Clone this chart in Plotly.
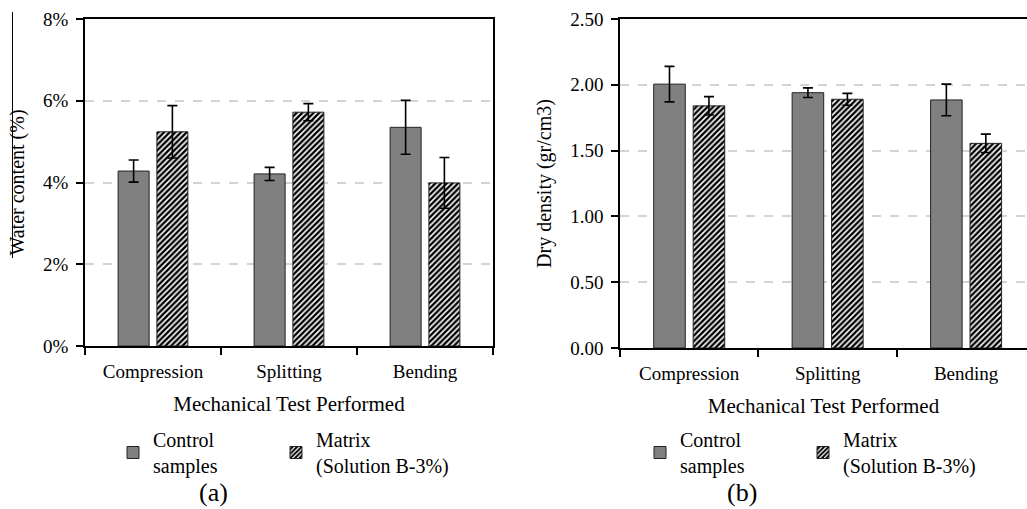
import plotly.graph_objects as go

categories = ["Compression", "Splitting", "Bending"]
series_names = ["Control<br>samples", "Matrix<br>(Solution B-3%)"]

# (a) water content, %
water_control = [4.28, 4.21, 5.35]
water_control_err = [0.27, 0.16, 0.66]
water_matrix = [5.24, 5.72, 3.99]
water_matrix_err = [0.64, 0.21, 0.62]

# (b) dry density, gr/cm3
dens_control = [2.005, 1.94, 1.885]
dens_control_err = [0.135, 0.037, 0.12]
dens_matrix = [1.84, 1.89, 1.555]
dens_matrix_err = [0.07, 0.045, 0.07]

y1_ticks = [0, 2, 4, 6, 8]
y1_ticklabels = ["0%", "2%", "4%", "6%", "8%"]
y2_ticks = [0, 0.5, 1.0, 1.5, 2.0, 2.5]
y2_ticklabels = ["0.00", "0.50", "1.00", "1.50", "2.00", "2.50"]

FONT = "Liberation Serif"
W, H = 1027, 509

fig = go.Figure()

def add_pair(xa, ya, ctrl, ctrl_err, mat, mat_err, leg_c, leg_m):
    fig.add_trace(go.Bar(
        x=categories, y=ctrl, name=series_names[0], xaxis=xa, yaxis=ya,
        legend=leg_c, showlegend=True,
        marker=dict(color="#808080", line=dict(color="#222222", width=1)),
        error_y=dict(type="data", array=ctrl_err, color="black", thickness=1.6, width=5),
    ))
    fig.add_trace(go.Bar(
        x=categories, y=mat, name=series_names[1], xaxis=xa, yaxis=ya,
        legend=leg_m, showlegend=True,
        marker=dict(color="white", line=dict(color="#222222", width=1),
                    pattern=dict(shape="/", fgcolor="black", bgcolor="white",
                                 fgopacity=1, size=4, solidity=0.6)),
        error_y=dict(type="data", array=mat_err, color="black", thickness=1.6, width=5),
    ))

add_pair("x", "y", water_control, water_control_err, water_matrix, water_matrix_err,
         "legend", "legend3")
add_pair("x2", "y2", dens_control, dens_control_err, dens_matrix, dens_matrix_err,
         "legend2", "legend4")

axis_font = dict(family=FONT, size=19, color="black")
title_font = dict(family=FONT, size=20, color="black")
xtitle_font = dict(family=FONT, size=21, color="black")

common_x = dict(
    type="category", showline=True, linecolor="black", linewidth=1.5,
    ticks="outside", ticklen=7, tickwidth=1.5, tickcolor="black",
    tickson="boundaries", tickfont=axis_font, showgrid=False, automargin=False,
    ticklabelstandoff=7,
    title=dict(text="Mechanical Test Performed", font=xtitle_font, standoff=16),
)
common_y = dict(
    showline=True, linecolor="black", linewidth=1.5,
    ticks="outside", ticklen=7, tickwidth=1.5, tickcolor="black",
    tickfont=axis_font, showgrid=True, gridcolor="#d4d4d4", gridwidth=1.5,
    griddash="dash", zeroline=False, ticklabelstandoff=4, automargin=False,
)

leg_common = dict(orientation="h", xanchor="left", yanchor="top", visible=True,
                  font=dict(family=FONT, size=20, color="black"),
                  bgcolor="rgba(0,0,0,0)", itemclick=False, itemdoubleclick=False)
leg_y = (H - 420) / H

fig.update_layout(
    width=W, height=H,
    margin=dict(l=0, r=0, t=0, b=0, autoexpand=False),
    paper_bgcolor="white", plot_bgcolor="white",
    showlegend=True,
    barmode="group", bargap=0.43, bargroupgap=0.2,
    font=dict(family=FONT, color="black"),
    xaxis=dict(common_x, domain=[85 / W, 493 / W], range=[-0.5, 2.5], mirror=True,
               anchor="y"),
    yaxis=dict(common_y, domain=[(H - 346) / H, (H - 19) / H], range=[0, 8],
               tickvals=y1_ticks, ticktext=y1_ticklabels, mirror=True, anchor="x",
               title=dict(text="Water content (%)", font=title_font, standoff=13)),
    xaxis2=dict(common_x, domain=[620 / W, 1.0], range=[-0.5, 2.44], mirror=True,
                anchor="y2"),
    yaxis2=dict(common_y, domain=[(H - 348) / H, (H - 19) / H], range=[0, 2.5],
                tickvals=y2_ticks, ticktext=y2_ticklabels, anchor="x2",
                title=dict(text="Dry density (gr/cm3)", font=title_font, standoff=13)),
    legend=dict(leg_common, x=113 / W, y=leg_y),
    legend3=dict(leg_common, x=276 / W, y=leg_y),
    legend2=dict(leg_common, x=640 / W, y=leg_y),
    legend4=dict(leg_common, x=803 / W, y=leg_y),
    annotations=[
        dict(text="(a)", x=213 / W, y=(H - 492) / H, xref="paper", yref="paper",
             yanchor="middle", xanchor="center",
             showarrow=False, font=dict(family=FONT, size=26, color="black")),
        dict(text="(b)", x=742 / W, y=(H - 492) / H, xref="paper", yref="paper",
             yanchor="middle", xanchor="center",
             showarrow=False, font=dict(family=FONT, size=26, color="black")),
    ],
    shapes=[
        dict(type="line", xref="paper", yref="paper", x0=12.5 / W, x1=12.5 / W,
             y0=(H - 12) / H, y1=(H - 258) / H, line=dict(color="black", width=1)),
    ],
)

fig.write_html("out.html", config={"displayModeBar": False},
               post_script="document.body.style.margin='0px';")
